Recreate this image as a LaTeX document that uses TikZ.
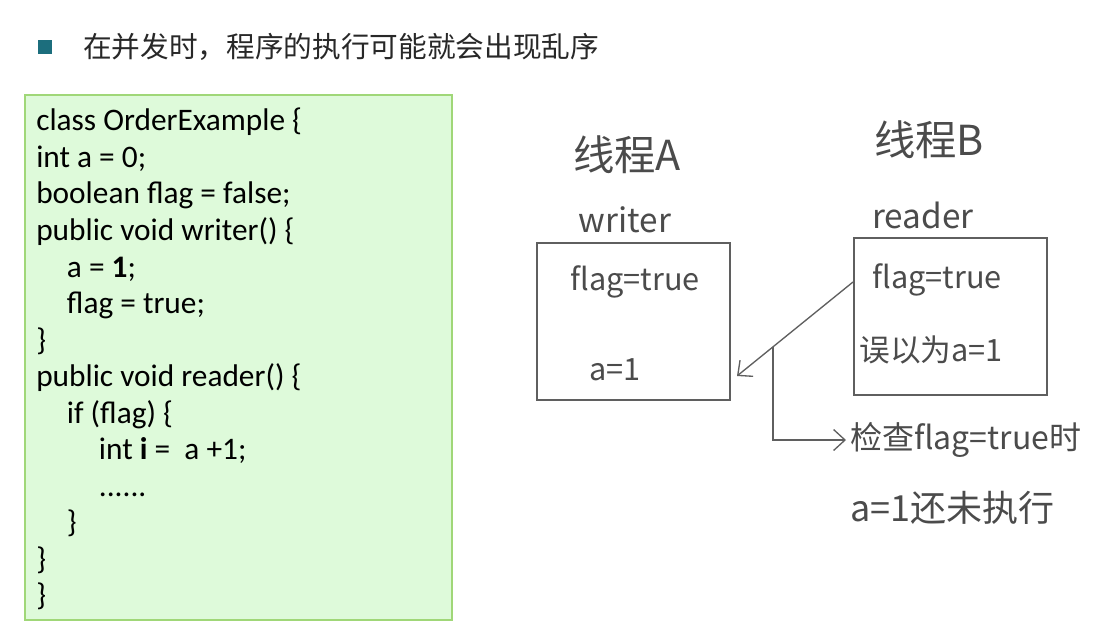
\documentclass[tikz,border=0pt]{standalone}
\usepackage{fontspec}
\setmainfont{Carlito}
\newfontfamily\cjk{Noto Sans CJK SC}
\usetikzlibrary{arrows.meta}
\definecolor{bulletteal}{RGB}{28,110,125}
\definecolor{titlegray}{RGB}{40,40,40}
\definecolor{codefill}{RGB}{222,250,218}
\definecolor{codeedge}{RGB}{160,215,120}
\definecolor{penline}{RGB}{95,95,95}
\definecolor{pentext}{RGB}{75,75,75}
\tikzset{
  >={Straight Barb[length=3mm,width=5.5mm]},
  hand/.style={font=\cjk\fontsize{23}{26}\selectfont,text=pentext,inner sep=0pt},
  handbig/.style={hand,font=\cjk\fontsize{24}{28}\selectfont},
  handtitle/.style={hand,font=\cjk\fontsize{31}{34}\selectfont},
  handname/.style={hand,font=\cjk\fontsize{25}{28}\selectfont},
  threadbox/.style={
    draw=penline,
    line width=1.1pt,
    minimum width=144.75pt,
    minimum height=117.75pt,
    inner sep=0pt
  },
  pen/.style={draw=penline,line width=1pt}
}

\begin{document}
\begin{tikzpicture}[x=0.75pt,y=-0.75pt]

  \useasboundingbox[fill=white] (0,0) rectangle (1118,633);

  \node[fill=bulletteal,minimum size=10.5pt,inner sep=0pt] (bullet) at (45,47) {};
  \node[anchor=west,font=\cjk\fontsize{21.5}{25}\selectfont,text=titlegray,inner sep=0pt] (title) at (83,47) {在并发时，程序的执行可能就会出现乱序};

  \node[draw=codeedge,line width=2.2pt,fill=codefill,minimum width=320.25pt,minimum height=393.75pt,inner sep=0pt] (codebox) at (238.5,357.5) {};
  \node[anchor=north west,align=left,font=\fontsize{23.5}{27.4}\selectfont,inner sep=0pt] (code) at (36,108) {
    class OrderExample \{\\
    int a = 0;\\
    boolean flag = false;\\
    public void writer() \{\\
    \hspace*{23pt}a = \textbf{1};\\
    \hspace*{23pt}flag = true;\\
    \}\\
    public void reader() \{\\
    \hspace*{23pt}if (flag) \{\\
    \hspace*{47pt}int \textbf{i} =~~a +1;\\
    \hspace*{47pt}......\\
    \hspace*{23pt}\}\\
    \}\\
    \}
  };

  % thread A
  \node[handtitle] (threadA) at (627,155) {线程A};
  \node[handname] (writer) at (625,220) {writer};
  \node[threadbox] (boxA) at (633.5,321.5) {};
  \node[hand] (aflag) at (635,282) {flag=true};
  \node[hand] (aval) at (615,370) {a=1};

  % thread B
  \node[handtitle] (threadB) at (929,140) {线程B};
  \node[handname] (reader) at (923,215) {reader};
  \node[threadbox] (boxB) at (950.5,316.5) {};
  \node[hand] (bflag) at (937,280) {flag=true};
  \node[hand] (bguess) at (931,350) {误以为a=1};

  \node[handbig,anchor=west] (check) at (850,440) {检查flag=true时};
  \node[handbig,anchor=west,font=\cjk\fontsize{27}{30}\selectfont] (notyet) at (850,508) {a=1还未执行};

  \coordinate (from) at (853,282);
  \coordinate (tip) at (737,376);
  \draw[pen,->] (from) -- coordinate[pos=0.69] (split) (tip);
  \draw[pen,->,shorten >=3pt] (split) |- (check.west);

\end{tikzpicture}
\end{document}
